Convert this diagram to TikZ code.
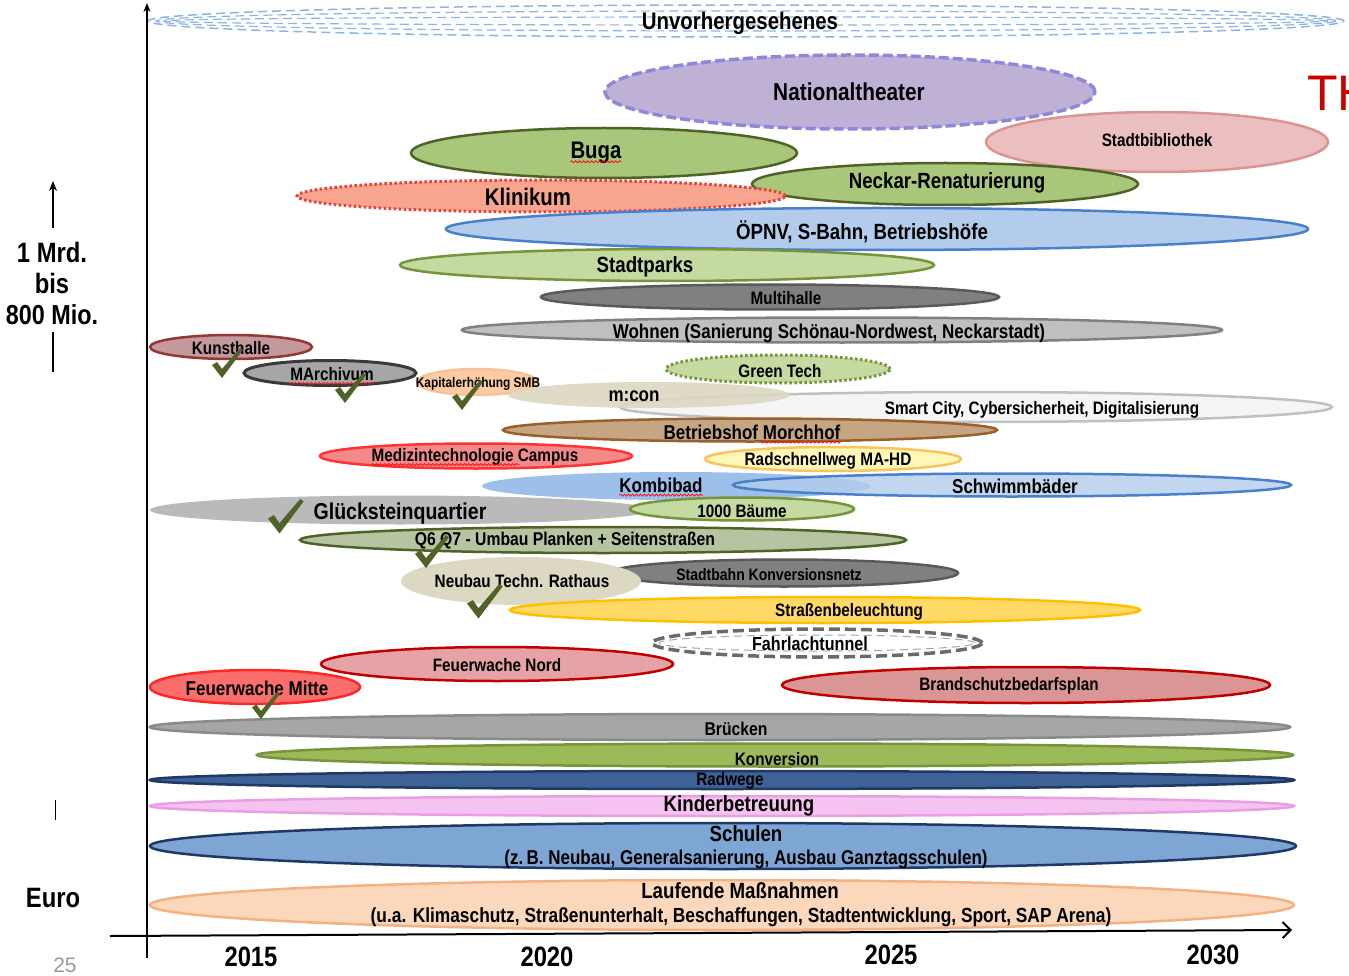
\documentclass[tikz,border=0pt]{standalone}
\usepackage{fontspec}
\setmainfont{Liberation Sans}[FakeStretch=0.85]
\newfontfamily\plainfont{Liberation Sans}
\usetikzlibrary{arrows.meta,decorations.pathmorphing}

\newcommand\fsz[1]{\fontsize{#1}{#1}\selectfont}

\definecolor{unvblue}{HTML}{8EB4E3}
\definecolor{ntF}{HTML}{BFB1D5}\definecolor{ntD}{HTML}{8F88DA}
\definecolor{bibF}{HTML}{EBBFBF}\definecolor{bibD}{HTML}{D99594}
\definecolor{grnF}{HTML}{A9C77B}\definecolor{grnD}{HTML}{4F6228}
\definecolor{klinF}{HTML}{F7A58E}\definecolor{klinD}{HTML}{E8403A}
\definecolor{oepF}{HTML}{B4CCEC}\definecolor{oepD}{HTML}{4A7FCB}
\definecolor{ltgF}{HTML}{C4DAA0}\definecolor{ltgD}{HTML}{77933C}
\definecolor{dgrF}{HTML}{808080}\definecolor{dgrD}{HTML}{5A5A5A}
\definecolor{lgrF}{HTML}{BFBFBF}\definecolor{lgrD}{HTML}{808080}
\definecolor{kunF}{HTML}{C3999B}\definecolor{kunD}{HTML}{953735}
\definecolor{marF}{HTML}{A6A6A6}\definecolor{marD}{HTML}{3A3A3A}
\definecolor{kapF}{HTML}{FBCBA4}\definecolor{kapD}{HTML}{F7C299}
\definecolor{beiF}{HTML}{DCD8C2}
\definecolor{smaF}{HTML}{F5F5F5}\definecolor{smaD}{HTML}{C0C0C0}
\definecolor{morF}{HTML}{C6A582}\definecolor{morD}{HTML}{98602C}
\definecolor{medF}{HTML}{F28A8A}\definecolor{medD}{HTML}{FF3333}
\definecolor{radF}{HTML}{FFF6B8}\definecolor{radD}{HTML}{F7C55C}
\definecolor{komF}{HTML}{9DC0EA}
\definecolor{glkF}{HTML}{BABABA}
\definecolor{qF}{HTML}{B7C4A2}
\definecolor{strF}{HTML}{FFD966}\definecolor{strD}{HTML}{FFC000}
\definecolor{fahD}{HTML}{6A6A6A}
\definecolor{fwnF}{HTML}{E6A3A6}\definecolor{fwD}{HTML}{C00000}
\definecolor{fwmF}{HTML}{FA6E6E}\definecolor{fwmD}{HTML}{FF2828}
\definecolor{braF}{HTML}{D99694}
\definecolor{brkF}{HTML}{A6A6A6}\definecolor{brkD}{HTML}{8A8A8A}
\definecolor{konF}{HTML}{9BBB59}
\definecolor{rdwF}{HTML}{3E6296}\definecolor{navy}{HTML}{1F3864}
\definecolor{kinF}{HTML}{F5C3F0}\definecolor{kinD}{HTML}{E9A0E2}
\definecolor{schF}{HTML}{7EA6D5}
\definecolor{lauF}{HTML}{FBD8BC}\definecolor{lauD}{HTML}{F4B183}
\definecolor{chkgreen}{HTML}{4F6228}
\definecolor{thred}{HTML}{CC0000}

\tikzset{
  proj/.style={line width=2.5pt},
  lbl/.style={font={\fsz{#1}\bfseries}, inner sep=0pt, yshift=-2pt},
  squig/.style={draw=red, line width=0.7pt, decorate,
    decoration={snake, amplitude=1pt, segment length=4pt}},
  chk/.pic={\fill[chkgreen] (0,17) -- (5,14) -- (10,21) -- (28,0) -- (31,2) -- (10,30) -- cycle;}
}

\begin{document}
\begin{tikzpicture}[x=1pt,y=-1pt]
\fill[white] (0,0) rectangle (1349,976);
\useasboundingbox (0,0) rectangle (1349,976);

% projects, back to front
\draw[draw=unvblue, line width=1.5pt, dash pattern=on 9pt off 5pt] (746,21) ellipse (598pt and 16pt);
\draw[draw=unvblue, line width=1.2pt, dash pattern=on 9pt off 5pt] (746,21) ellipse (590pt and 10pt);
\draw[draw=unvblue, line width=1.2pt, dash pattern=on 9pt off 5pt] (746,21) ellipse (582pt and 4pt);
\draw[proj, fill=bibF, draw=bibD] (1157,142) ellipse (171pt and 30pt);
\draw[proj, fill=ntF, draw=ntD, line width=3.5pt, dash pattern=on 10pt off 4pt] (850,92) ellipse (245pt and 37pt);
\draw[proj, fill=grnF, draw=grnD] (604,153) ellipse (193pt and 25pt);
\draw[proj, fill=grnF, draw=grnD] (945,184) ellipse (193pt and 21pt);
\draw[proj, fill=klinF, draw=klinD, line width=3pt, dash pattern=on 2.5pt off 2.5pt] (541,196) ellipse (244pt and 16pt);
\draw[proj, fill=oepF, draw=oepD] (877,229) ellipse (431pt and 21pt);
\draw[proj, fill=ltgF, draw=ltgD] (667,265) ellipse (267pt and 16pt);
\draw[proj, fill=dgrF, draw=dgrD] (770,297) ellipse (229pt and 12.5pt);
\draw[proj, fill=lgrF, draw=lgrD] (842,330) ellipse (380pt and 12.5pt);
\draw[proj, fill=kunF, draw=kunD] (231,347) ellipse (81pt and 12pt);
\draw[proj, fill=marF, draw=marD, line width=3pt] (330,373) ellipse (86pt and 12.5pt);
\draw[proj, fill=kapF, draw=kapD] (477,382) ellipse (60pt and 13pt);
\draw[proj, fill=ltgF, draw=ltgD, line width=3pt, dash pattern=on 2.5pt off 2.5pt] (778,369) ellipse (112pt and 14pt);
\draw[proj, fill=smaF, draw=smaD] (976,407) ellipse (356pt and 15pt);
\fill[beiF, fill opacity=0.9] (649,395) ellipse (141pt and 13pt);
\draw[proj, fill=morF, draw=morD] (750,430) ellipse (247pt and 11.5pt);
\draw[proj, fill=medF, draw=medD] (476,456) ellipse (156pt and 12.5pt);
\draw[proj, fill=radF, draw=radD] (833,459) ellipse (128pt and 12pt);
\fill[komF] (676,486) ellipse (194pt and 14pt);
\draw[proj, fill=oepF, draw=oepD, fill opacity=0.8] (1012,485) ellipse (279pt and 11.5pt);
\fill[glkF] (400,510) ellipse (250pt and 14.5pt);
\draw[proj, fill=ltgF, draw=ltgD] (742,509) ellipse (112pt and 11.5pt);
\draw[proj, fill=qF, draw=grnD] (603,540) ellipse (303pt and 13pt);
\draw[proj, fill=dgrF, draw=dgrD] (784,573) ellipse (174pt and 13.5pt);
\fill[beiF] (521,581) ellipse (120pt and 24pt);
\draw[proj, fill=strF, draw=strD] (825,610) ellipse (315pt and 13pt);
\draw[draw=fahD, line width=3.5pt, dash pattern=on 11pt off 5pt] (817,643) ellipse (165pt and 14pt);
\draw[draw=fahD!60, line width=1pt, dash pattern=on 8pt off 5pt] (817,643) ellipse (158pt and 8pt);
\draw[proj, fill=fwnF, draw=fwD] (497,664) ellipse (176pt and 17pt);
\draw[proj, fill=fwmF, draw=fwmD] (255,687) ellipse (105pt and 17pt);
\draw[proj, fill=braF, draw=fwD] (1026,685) ellipse (244pt and 18pt);
\draw[proj, fill=brkF, draw=brkD] (720,727) ellipse (570pt and 13pt);
\draw[proj, fill=konF, draw=ltgD] (775,755) ellipse (518pt and 11.5pt);
\draw[proj, fill=rdwF, draw=navy] (722,780) ellipse (572pt and 9pt);
\draw[proj, fill=kinF, draw=kinD] (722,806) ellipse (572pt and 10pt);
\draw[proj, fill=schF, draw=navy] (723,846) ellipse (573pt and 23pt);
\draw[proj, fill=lauF, draw=lauD] (722,905) ellipse (572pt and 25pt);

% labels
\node[lbl=24] (unv) at (740,21) {Unvorhergesehenes};
\node[lbl=24.5] (nat) at (849,90) {Nationaltheater};
\node[lbl=18] (bib) at (1157,138) {Stadtbibliothek};
\node[lbl=24] (buga) at (596,151) {Buga};
\node[lbl=22] (neck) at (947,181) {Neckar-Renaturierung};
\node[lbl=24] (klin) at (528,195) {Klinikum};
\node[lbl=22] (oepnv) at (862,230) {ÖPNV, S-Bahn, Betriebshöfe};
\node[lbl=22] (park) at (645,265) {Stadtparks};
\node[lbl=18] (multi) at (786,296) {Multihalle};
\node[lbl=20] (wohn) at (829,331) {Wohnen (Sanierung Schönau-Nordwest, Neckarstadt)};
\node[lbl=18] (kunst) at (231,346) {Kunsthalle};
\node[lbl=18] (march) at (332,372) {MArchivum};
\node[lbl=14] (kap) at (478,382) {Kapitalerhöhung SMB};
\node[lbl=18] (gtech) at (780,369) {Green Tech};
\node[lbl=20] (mcon) at (634,394) {m:con};
\node[lbl=18] (smart) at (1042,408) {Smart City, Cybersicherheit, Digitalisierung};
\node[lbl=20] (morch) at (752,430) {Betriebshof Morchhof};
\node[lbl=18] (med) at (475,455) {Medizintechnologie Campus};
\node[lbl=18] (rad) at (828,459) {Radschnellweg MA-HD};
\node[lbl=20] (kombi) at (661,483) {Kombibad};
\node[lbl=20] (schwimm) at (1015,484) {Schwimmbäder};
\node[lbl=23] (glueck) at (400,512) {Glücksteinquartier};
\node[lbl=18] (baum) at (742,509) {1000 Bäume};
\node[lbl=18.5] (q6) at (565,539) {Q6 Q7 - Umbau Planken + Seitenstraßen};
\node[lbl=16.5] (sbahn) at (769,573) {Stadtbahn Konversionsnetz};
\node[lbl=18] (neubau) at (522,579) {Neubau Techn. Rathaus};
\node[lbl=18] (licht) at (849,610) {Straßenbeleuchtung};
\node[lbl=19] (fahr) at (810,642) {Fahrlachtunnel};
\node[lbl=18] (fwnord) at (497,663) {Feuerwache Nord};
\node[lbl=20] (fwmitte) at (257,686) {Feuerwache Mitte};
\node[lbl=18] (brand) at (1009,684) {Brandschutzbedarfsplan};
\node[lbl=18.5] (bruek) at (736,727) {Brücken};
\node[lbl=18] (konv) at (777,757) {Konversion};
\node[lbl=18] (radw) at (730,779) {Radwege};
\node[lbl=22] (kind) at (739,804) {Kinderbetreuung};
\node[lbl=22] (schul) at (746,832) {Schulen};
\node[lbl=20] (schul2) at (746,857) {(z.\,B. Neubau, Generalsanierung, Ausbau Ganztagsschulen)};
\node[lbl=22] (lauf) at (740,889) {Laufende Maßnahmen};
\node[lbl=20.4] (lauf2) at (741,915) {(u.a. Klimaschutz, Straßenunterhalt, Beschaffungen, Stadtentwicklung, Sport, SAP Arena)};

% spell-check marks
\draw[squig] ([yshift=-3pt]buga.base west) -- ([yshift=-3pt]buga.base east);
\draw[squig] ([yshift=-3pt]march.base west) -- ([yshift=-3pt]march.base east);
\draw[squig] ([yshift=-3pt]med.base west) -- ([xshift=148pt,yshift=-3pt]med.base west);
\draw[squig] ([xshift=-81pt,yshift=-3pt]morch.base east) -- ([yshift=-3pt]morch.base east);
\draw[squig] ([yshift=-3pt]kombi.base west) -- ([yshift=-3pt]kombi.base east);

% done
\pic at (212,348) {chk};
\pic at (335,373) {chk};
\pic at (452,380) {chk};
\pic[scale=1.15] at (268,499) {chk};
\pic[scale=1.1] at (415,535) {chk};
\pic[scale=1.15] at (467,584) {chk};
\pic[scale=0.9] at (252,692) {chk};

% axes
\coordinate (yB) at (147,958);
\coordinate (yT) at (147,3);
\coordinate (xL) at (110,936);
\coordinate (xR) at (1292,930);
\draw[line width=2pt, -{Stealth[length=9pt,width=7pt]}] (yB) -- (yT);
\draw[line width=2pt, -{Straight Barb[length=8pt,width=16pt]}] (xL) -- (xR);
\node[lbl=28] (y15) at (251,955) {2015};
\node[lbl=28] (y20) at (547,955) {2020};
\node[lbl=28] (y25) at (891,953) {2025};
\node[lbl=28] (y30) at (1213,953) {2030};

% amount scale
\coordinate (mB) at (53,228);
\coordinate (mT) at (53,181);
\draw[line width=2pt, -{Stealth[length=10pt,width=8pt]}] (mB) -- (mT);
\node[lbl=28] (mrd) at (52,250) {1 Mrd.};
\node[lbl=28] (bis) at (52,281) {bis};
\node[lbl=27.5] (mio) at (52,313) {800 Mio.};
\coordinate (sA) at (53,332);
\coordinate (sB) at (53,372);
\draw[line width=2pt] (sA) -- (sB);
\coordinate (tA) at (55,800);
\coordinate (tB) at (55,820);
\draw[line width=1pt] (tA) -- (tB);
\node[lbl=28] (euro) at (53,896) {Euro};
\node[font={\plainfont\fsz{21}}, text=black!40, inner sep=0pt] (pg) at (65,965) {25};

\begin{scope}
\clip (0,0) rectangle (1349,976);
\node[font={\plainfont\fsz{50}}, text=thred, inner sep=0pt, anchor=west] (th) at (1307,93) {TH};
\end{scope}
\end{tikzpicture}
\end{document}
